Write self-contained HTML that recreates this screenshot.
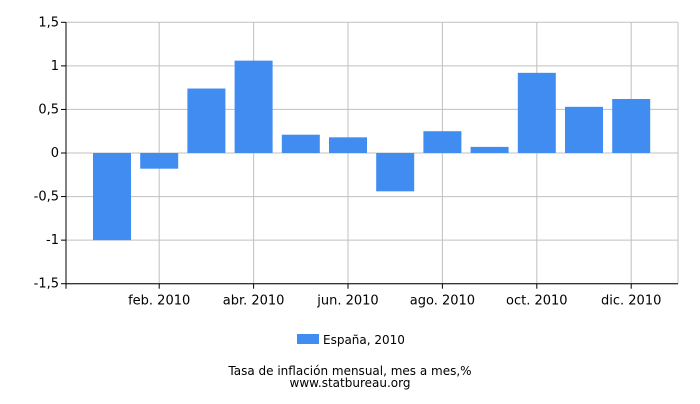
<!DOCTYPE html>
<html><head><meta charset="utf-8"><style>
body{margin:0;background:#fff;font-family:"DejaVu Sans","Liberation Sans",sans-serif;}
</style></head><body>
<svg id="chart" width="700" height="400" xmlns="http://www.w3.org/2000/svg" font-family="DejaVu Sans, Liberation Sans, sans-serif" font-size="13">
<g id="grid"></g><g id="bars"></g><g id="axes"></g>
<rect x="297" y="334" width="22" height="10" fill="#418cf0"/>
<text x="323" y="344" font-size="12" fill="#000">España, 2010</text>
<text x="350" y="375" text-anchor="middle" font-size="12" fill="#000">Tasa de inflación mensual, mes a mes,%</text>
<text x="350" y="387" text-anchor="middle" font-size="12" fill="#000">www.statbureau.org</text>
</svg>
<script>
const months=["ene. 2010","feb. 2010","mar. 2010","abr. 2010","may. 2010","jun. 2010","jul. 2010","ago. 2010","sep. 2010","oct. 2010","nov. 2010","dic. 2010"];
const values=[-1.0,-0.18,0.74,1.06,0.21,0.18,-0.44,0.25,0.07,0.92,0.53,0.62];
const yTicks=[1.5,1,0.5,0,-0.5,-1,-1.5];
const yTickLabels=["1,5","1","0,5","0","-0,5","-1","-1,5"];
const NS="http://www.w3.org/2000/svg";
const L=66,R=678,T=22.3,B=283.7;
const y=v=>T+(1.5-v)/3*(B-T);
const x=i=>112+i*47.2;
function mk(tag,attrs,parent,txt){const e=document.createElementNS(NS,tag);for(const k in attrs)e.setAttribute(k,attrs[k]);if(txt!==undefined)e.textContent=txt;document.getElementById(parent).appendChild(e);return e;}
yTicks.forEach((v,k)=>{
 const g=mk("line",{x1:L,x2:R,y1:y(v),y2:y(v),stroke:"#c0c0c0","stroke-width":1},"grid");
 
 
 const t=mk("line",{x1:L-5,x2:L,y1:y(v),y2:y(v),stroke:"#000"},"axes");
 
 
 const l=mk("text",{x:L-7,y:y(v)+4,"text-anchor":"end",fill:"#000"},"axes",yTickLabels[k]);
 
 
});
months.forEach((m,i)=>{
 if(i%2===1){
  const g=mk("line",{x1:x(i),x2:x(i),y1:T,y2:B,stroke:"#c0c0c0"},"grid");
  
  
  const t=mk("line",{x1:x(i),x2:x(i),y1:B,y2:B+5,stroke:"#000"},"axes");
  
  
  const l=mk("text",{x:x(i),y:B+21,"text-anchor":"middle",fill:"#000"},"axes",m);
  
  
 }
 const v=values[i];
 const b=mk("rect",{x:x(i)-19,width:38,y:Math.min(y(v),y(0)),height:Math.abs(y(v)-y(0)),fill:"#418cf0"},"bars");
 
 
});
const t0=mk("line",{x1:L,x2:L,y1:B,y2:B+5,stroke:"#000"},"axes");


const ya=mk("line",{x1:L,x2:L,y1:T,y2:B,stroke:"#000"},"axes");


const xa=mk("line",{x1:L,x2:R,y1:B,y2:B,stroke:"#000"},"axes");


const rb=mk("line",{x1:R,x2:R,y1:T,y2:B,stroke:"#c0c0c0"},"grid");


</script>
</body></html>
